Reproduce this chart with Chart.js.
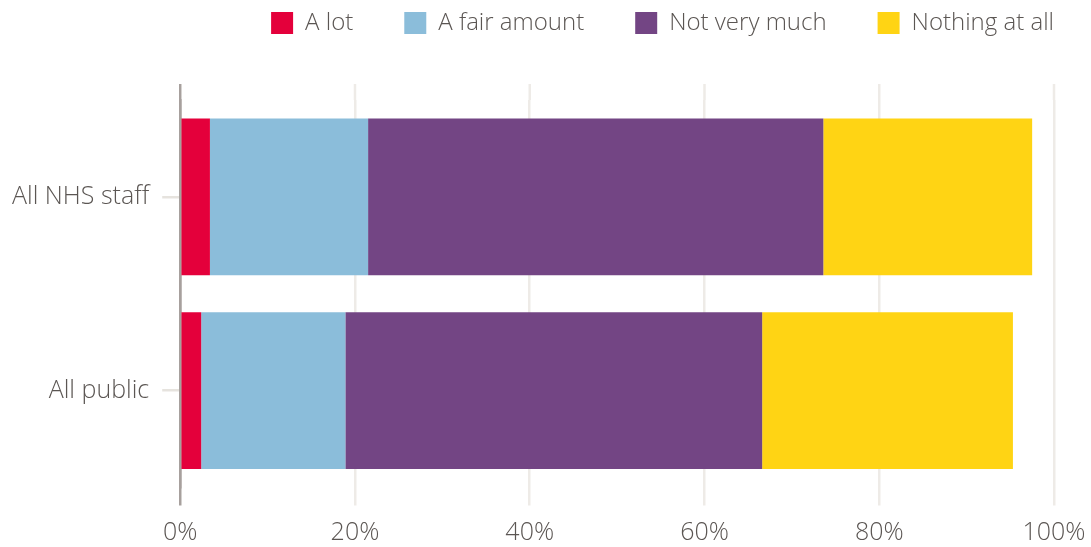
<!DOCTYPE html>
<html>
<head>
<meta charset="utf-8">
<script src="https://cdn.jsdelivr.net/npm/chart.js@4/dist/chart.umd.min.js"></script>
<style>
  html, body { margin: 0; padding: 0; background: #fff; }
  #wrap { width: 1091px; height: 547px; }
</style>
</head>
<body>
<div id="wrap"><canvas id="chart"></canvas></div>
<script>
// ── Data ───────────────────────────────────────────────────────────────
const categories = ['All NHS staff', 'All public'];
const aLot        = [3.4, 2.4];
const fairAmount  = [18.1, 16.5];
const notVeryMuch = [52.1, 47.7];
const nothingAtAll = [23.9, 28.7];
const xTicks = [0, 20, 40, 60, 80, 100];

const textColor = '#5b5653';
const gridColor = '#eeebe7';
const axisColor = '#a7a09d';
const family = "'Open Sans', 'Noto Sans', sans-serif";
const font = { family, size: 25, weight: '300' };
const legendFont = { family, size: 24, weight: '300' };

// grid lines run a little above the plot area
const gridTop = {
    id: 'gridTop',
    afterDraw(chart) {
        const { ctx, chartArea, scales: { x } } = chart;
        ctx.save();
        ctx.lineWidth = 2.5;
        xTicks.forEach((v, i) => {
            const px = x.getPixelForValue(v);
            ctx.strokeStyle = i === 0 ? axisColor : gridColor;
            ctx.beginPath();
            ctx.moveTo(px, chartArea.top - 16);
            ctx.lineTo(px, chartArea.top);
            ctx.stroke();
        });
        ctx.restore();
    }
};

// legend: fixed block height, pushed up and to the right edge
const legendPlace = {
    id: 'legendPlace',
    beforeInit(chart) {
        const fit = chart.legend.fit;
        chart.legend.fit = function () { fit.call(this); this.height = 100; };
    },
    afterLayout(chart) {
        chart.legend.top -= 40;
        chart.legend.right = 1105;
    }
};

new Chart(document.getElementById('chart'), {
    type: 'bar',
    data: {
        labels: categories,
        datasets: [
            { label: 'A lot',          data: aLot,         backgroundColor: '#e4003b' },
            { label: 'A fair amount',  data: fairAmount,   backgroundColor: '#8bbdda' },
            { label: 'Not very much',  data: notVeryMuch,  backgroundColor: '#734584' },
            { label: 'Nothing at all', data: nothingAtAll, backgroundColor: '#ffd414' },
        ]
    },
    options: {
        indexAxis: 'y',
        responsive: true, maintainAspectRatio: false, animation: false,
        datasets: { bar: { barPercentage: 1, categoryPercentage: 0.81, borderWidth: 0 } },
        layout: { padding: { top: 0, right: 37, bottom: -12.5, left: -1 } },
        plugins: {
            legend: {
                position: 'top', align: 'end',
                labels: { color: textColor, font: legendFont, boxWidth: 22, boxHeight: 22, padding: 51 }
            },
            tooltip: { enabled: false }
        },
        scales: {
            x: {
                stacked: true, min: 0, max: 100,
                afterBuildTicks: s => { s.ticks = xTicks.map(v => ({ value: v })); },
                afterFit: s => { s.paddingRight = 0; },
                grid: {
                    color: c => c.index === 0 ? axisColor : gridColor,
                    lineWidth: 2.5, drawTicks: true, tickLength: 18
                },
                border: { display: false },
                ticks: { color: textColor, font, padding: 12, callback: v => v + '%' }
            },
            y: {
                stacked: true,
                grid: { drawOnChartArea: false, drawTicks: true, tickLength: 18, offset: false, color: '#e6e3de', lineWidth: 2.5 },
                border: { display: true, color: axisColor, width: 2.5 },
                ticks: { color: textColor, font, padding: 13 }
            }
        }
    },
    plugins: [gridTop, legendPlace]
});
</script>
</body>
</html>
